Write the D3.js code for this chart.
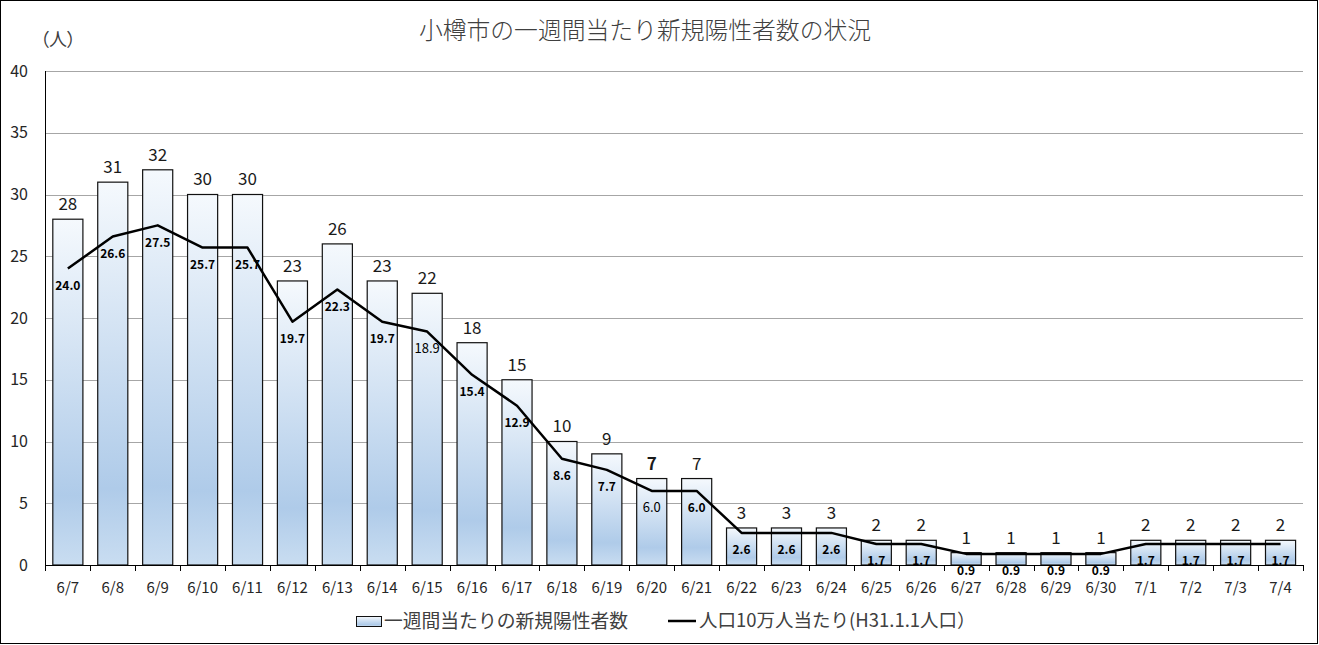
<!DOCTYPE html>
<html><head><meta charset="utf-8">
<script src="https://cdn.jsdelivr.net/npm/d3@7"></script>
<style>
html,body{margin:0;padding:0;background:#fff;}
svg text{font-family:"Noto Sans CJK JP","Noto Sans",sans-serif;}
svg text.palt{font-feature-settings:"palt";}
</style></head>
<body><svg id="c" width="1319" height="645"></svg>
<script>
const categories = ["6/7","6/8","6/9","6/10","6/11","6/12","6/13","6/14","6/15","6/16","6/17","6/18","6/19","6/20","6/21","6/22","6/23","6/24","6/25","6/26","6/27","6/28","6/29","6/30","7/1","7/2","7/3","7/4"];
const weeklyCases = [28,31,32,30,30,23,26,23,22,18,15,10,9,7,7,3,3,3,2,2,1,1,1,1,2,2,2,2];
const per100k = [24.0,26.6,27.5,25.7,25.7,19.7,22.3,19.7,18.9,15.4,12.9,8.6,7.7,6.0,6.0,2.6,2.6,2.6,1.7,1.7,0.9,0.9,0.9,0.9,1.7,1.7,1.7,1.7];
const yTicks = [0,5,10,15,20,25,30,35,40];
const title = "小樽市の一週間当たり新規陽性者数の状況";
const yUnit = "（人）";
const legendBar = "一週間当たりの新規陽性者数";
const legendLine = "人口10万人当たり(H31.1.1人口）";
// label style quirks from the original
const boldBarLabelIdx = [13];
const plainLineLabelIdx = [8, 13];

const svg = d3.select("#c");
const W = 1319, H = 645;
svg.append("rect").attr("x",0.5).attr("y",0.5).attr("width",W-2).attr("height",H-2)
  .attr("fill","#fff").attr("stroke","#000").attr("stroke-width",1);

const defs = svg.append("defs");
const grad = defs.append("linearGradient").attr("id","barGrad").attr("x1",0).attr("y1",0).attr("x2",0).attr("y2",1);
grad.append("stop").attr("offset","0%").attr("stop-color","#f5f9fd");
grad.append("stop").attr("offset","80%").attr("stop-color","#afcbe9");
grad.append("stop").attr("offset","100%").attr("stop-color","#c9ddf1");

const x = d3.scaleBand().domain(categories).range([45.4,1303]).paddingInner(0.33).paddingOuter(0.165);
const y = d3.scaleLinear().domain([0,40]).range([565,71]);

// gridlines
svg.append("g").selectAll("line").data(yTicks.filter(d=>d>0)).join("line")
  .attr("x1",45.4).attr("x2",1303).attr("y1",d=>Math.round(y(d))+0.5).attr("y2",d=>Math.round(y(d))+0.5)
  .attr("stroke","#a6a6a6").attr("stroke-width",1);

// y labels
svg.append("g").selectAll("text").data(yTicks).join("text")
  .attr("x",28).attr("y",d=>y(d)).attr("dy","0.35em").attr("text-anchor","end")
  .attr("font-size",16).attr("fill","#262626").text(d=>d);

// bars
svg.append("g").selectAll("rect").data(weeklyCases).join("rect")
  .attr("x",(d,i)=>x(categories[i])).attr("width",x.bandwidth())
  .attr("y",d=>y(d)).attr("height",d=>y(0)-y(d))
  .attr("fill","url(#barGrad)").attr("stroke","#111").attr("stroke-width",1.2);

// axes lines
svg.append("line").attr("x1",45.5).attr("x2",45.5).attr("y1",71).attr("y2",565).attr("stroke","#000").attr("stroke-width",1);
svg.append("line").attr("x1",45.4).attr("x2",1303).attr("y1",565.5).attr("y2",565.5).attr("stroke","#000").attr("stroke-width",1);
// category boundary ticks
const step = x.step();
const bounds = d3.range(categories.length+1).map(i=>x(categories[0]) - x.paddingOuter()*step + i*step);
svg.append("g").selectAll("line").data(bounds).join("line")
  .attr("x1",d=>Math.round(d)+0.5).attr("x2",d=>Math.round(d)+0.5).attr("y1",565).attr("y2",571)
  .attr("stroke","#000");
// x labels
svg.append("g").selectAll("text").data(categories).join("text")
  .attr("x",d=>x(d)+x.bandwidth()/2).attr("y",588).attr("dy","0.35em").attr("text-anchor","middle")
  .attr("font-size",15).attr("fill","#262626").text(d=>d);

// bar value labels
svg.append("g").selectAll("text").data(weeklyCases).join("text")
  .attr("x",(d,i)=>x(categories[i])+x.bandwidth()/2).attr("y",d=>y(d)-15).attr("dy","0.35em")
  .attr("text-anchor","middle").attr("font-size",17).attr("fill","#1a1a1a")
  .attr("font-weight",(d,i)=>boldBarLabelIdx.includes(i)?"bold":"normal").text(d=>d);

// line
const line = d3.line().x((d,i)=>x(categories[i])+x.bandwidth()/2).y(d=>y(d));
svg.append("path").datum(per100k).attr("d",line).attr("fill","none")
  .attr("stroke","#000").attr("stroke-width",2.5).attr("stroke-linejoin","round");

// line labels
svg.append("g").selectAll("text").data(per100k).join("text")
  .attr("x",(d,i)=>x(categories[i])+x.bandwidth()/2).attr("y",d=>y(d)+17).attr("dy","0.35em")
  .attr("text-anchor","middle").attr("fill","#000")
  .attr("font-weight",(d,i)=>plainLineLabelIdx.includes(i)?"normal":"bold")
  .attr("font-size",(d,i)=>plainLineLabelIdx.includes(i)?13:12)
  .text(d=>d.toFixed(1));

// title
svg.append("text").attr("x",645).attr("y",31).attr("dy","0.35em").attr("text-anchor","middle")
  .attr("font-size",23.8).attr("font-weight",300).attr("fill","#404040").text(title);
svg.append("text").attr("class","palt").attr("x",58).attr("y",40).attr("dy","0.35em").attr("text-anchor","middle")
  .attr("font-size",18).attr("fill","#404040").text(yUnit);

// legend
const lg = svg.append("g");
lg.append("rect").attr("x",356.5).attr("y",616.5).attr("width",25).attr("height",10)
  .attr("fill","url(#barGrad)").attr("stroke","#111").attr("stroke-width",1);
lg.append("text").attr("x",384).attr("y",621).attr("dy","0.35em").attr("font-size",18.8)
  .attr("fill","#404040").text(legendBar);
lg.append("line").attr("x1",668).attr("x2",696).attr("y1",621).attr("y2",621).attr("stroke","#000").attr("stroke-width",2.5);
lg.append("text").attr("x",699).attr("y",621).attr("dy","0.35em").attr("font-size",18.5)
  .attr("fill","#404040").text(legendLine);
</script></body></html>
